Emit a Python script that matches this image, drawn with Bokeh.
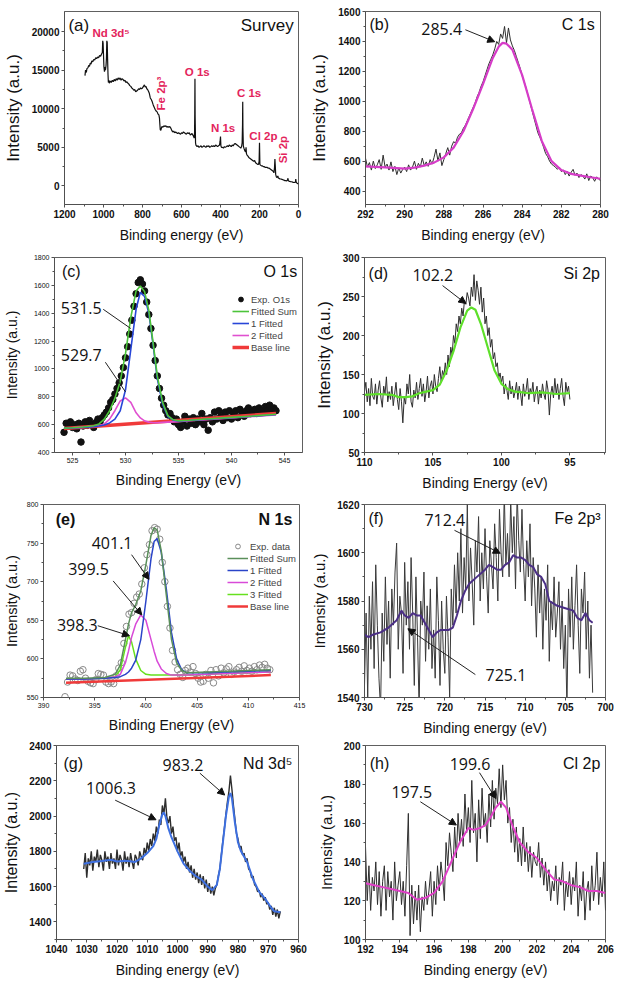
import numpy as np
from bokeh.plotting import figure
from bokeh.models import Range1d, FixedTicker, Label, Arrow, NormalHead, Legend, LegendItem
from bokeh.layouts import column, row
from bokeh.embed import file_html
from bokeh.resources import INLINE

# ---------------- data ----------------
# (a) survey
survey_be = [1095,1092,1088,1085,1080,1076,1072,1068,1064,1060,
             1055,1050,1045,1040,1035,1030,1025,1020,1015,1010,
             1006,1004,1002,1000,998,995,992,990,987,985,
             983,981,979,977,975,972,970,965,960,955,
             950,945,940,935,930,925,920,915,910,905,
             900,895,890,885,880,875,870,865,860,855,
             850,845,840,835,830,825,820,815,810,805,
             800,795,790,786,782,778,774,770,765,760,
             755,750,745,740,735,730,725,720,716,713,
             711,709,706,703,700,695,690,685,680,675,
             670,665,660,655,650,645,640,635,630,625,
             620,615,610,605,600,595,590,585,580,575,
             570,565,560,555,550,546,542,538,535,533,
             532,531,530,528,526,523,520,515,510,505,
             500,495,490,485,480,475,470,465,460,455,
             450,445,440,435,430,425,420,415,410,405,
             402,400,398,395,390,385,380,375,370,365,
             360,355,350,345,340,335,330,325,320,315,
             310,305,300,296,292,289,287,286,285,283,
             280,277,274,271,269,267,264,260,255,250,
             245,240,235,230,225,220,215,210,205,202,
             200,198,195,190,185,180,175,170,165,160,
             155,150,145,140,135,130,126,123,121,119,
             117,114,110,106,103,100,95,90,85,80,
             75,70,65,60,56,54,52,48,45,40,
             35,30,25,20,16,14,12,9,6,3,0]
survey_counts = [14300,15000,14700,15200,15300,15600,15500,15900,15800,16200,
                 16100,16400,16300,16600,16500,16700,16600,16900,16800,17100,
                 17300,18800,18500,17000,15500,14800,15400,15000,15600,16500,
                 18800,18600,16500,14500,13400,13700,13300,13600,13400,13700,
                 13500,13800,13600,13900,13700,14000,13800,14000,13700,13900,
                 13800,13600,13700,13400,13500,13300,13200,13000,12900,12700,
                 12600,12400,12500,12200,12300,12400,12600,12500,12700,12600,
                 12700,12900,13100,12800,12900,12600,12500,12300,12000,11400,
                 11200,10900,10500,10200,9900,9700,9600,9300,9200,8800,
                 8000,7300,7200,7500,7700,7600,7800,7700,7800,7600,
                 7700,7600,7700,7500,7200,7000,7100,6900,7000,6900,
                 6800,6900,6800,6700,6900,6800,7000,6900,6800,6700,
                 6900,6800,6900,6600,6700,6800,6600,6400,6200,6900,
                 9500,13900,9000,5600,5300,5200,5100,5200,5000,5100,
                 5200,5000,5100,5200,5100,5000,5200,5100,5200,5000,
                 5100,5200,5100,5200,5100,5300,5200,5100,5200,5300,
                 5800,6400,5200,5000,5000,4900,5100,5000,5100,5200,
                 5100,5300,5200,5100,5300,5200,5400,5500,5400,5300,
                 5200,5100,5000,4900,5100,5600,8000,10900,7500,5200,
                 4900,4700,4500,4400,5000,4200,4000,3900,3700,3600,
                 3500,3400,3300,3200,3300,3000,2900,2800,2800,3200,
                 5600,2800,2700,2600,2600,2500,2500,2400,2400,2400,
                 2300,2300,2200,2100,2000,1900,1700,2400,3500,2600,
                 1500,1200,1100,1300,1000,1000,900,900,850,800,
                 750,700,700,650,800,1000,700,600,600,550,
                 550,500,450,450,500,900,500,400,350,300,250]

# (b) C 1s, measured 292 -> 280 eV, 0.1 eV step
c1s_exp = [620,560,590,540,600,550,575,610,545,640,560,
           580,540,595,530,565,510,555,520,545,560,
           530,575,540,560,600,545,585,560,620,570,
           595,565,610,580,625,680,600,655,570,610,
           650,690,640,700,730,720,760,780,790,820,
           840,870,900,930,960,990,1030,1060,1100,1130,
           1170,1210,1250,1280,1310,1350,1400,1380,1450,1420,
           1500,1390,1490,1410,1370,1340,1300,1260,1220,1170,
           1130,1090,1040,990,940,890,840,790,760,730,
           690,650,630,600,580,570,560,545,560,530,
           540,510,530,500,525,545,505,520,490,510,
           500,480,515,470,500,490,465,495,480,470]
c1s_fit_be = [292,291,290,289.5,289,288.5,288,287.5,287,286.5,286,285.5,285.2,285,284.8,284.5,284,283.5,283,282.5,282,281.5,281,280.5,280]
c1s_fit = [565,558,550,556,570,590,625,690,800,950,1115,1290,1365,1390,1385,1345,1175,950,735,600,540,515,503,492,482]

# (c) O 1s, measured 524.2 -> 544.2 eV, 0.2 eV step
o1s_exp = [545,610,590,620,580,600,570,610,475,590,
           620,595,630,600,580,615,640,620,650,670,
           690,720,760,780,820,860,900,950,1010,1080,
           1160,1250,1350,1450,1540,1620,1640,1610,1560,1480,
           1390,1290,1170,1060,950,860,790,740,700,670,
           680,650,620,640,600,580,620,660,590,640,
           610,650,600,640,620,680,600,640,560,650,
           620,690,640,700,660,630,690,650,700,640,
           680,700,650,710,680,660,700,720,680,690,
           710,680,720,700,690,730,700,740,710,720,700]
o1s_fit_be = [524.2,525,526,527,527.5,528,528.5,529,529.5,530,530.5,531,531.4,531.8,532.2,532.6,533,533.5,534,534.5,535,536,538,540,542,544.2]
o1s_sum = [575,578,583,592,605,640,700,790,910,1110,1370,1560,1595,1555,1420,1190,950,760,665,635,628,632,642,652,662,675]
o1s_fit1 = [575,577,580,585,590,598,612,640,700,850,1140,1430,1550,1520,1400,1175,930,745,658,632,626,630,640,650,660,673]
o1s_fit2 = [575,578,582,588,592,605,640,700,770,792,760,685,648,627,618,614,614,616,618,620,622,628,638,648,658,670]
o1s_base_be = [524.2, 544.2]
o1s_base = [572, 680]

# (d) Si 2p, measured 110 -> 95 eV, 0.1 eV step
si2p_exp = [128,140,115,132,110,145,122,118,138,112,
            130,142,120,108,135,125,147,115,128,118,
            135,110,125,140,118,105,132,115,88,120,
            112,138,125,150,115,108,130,120,140,118,
            132,145,122,138,115,128,148,120,135,142,
            125,150,135,128,145,160,140,155,148,165,
            150,175,160,185,175,200,190,215,205,225,
            215,235,225,245,240,255,248,238,262,250,
            278,245,270,258,240,262,230,248,215,225,
            200,210,185,195,170,178,160,165,145,152,
            140,148,125,138,130,118,142,125,135,120,
            128,140,118,135,125,110,138,122,130,145,
            118,132,125,140,115,128,135,112,130,120,
            138,125,118,142,130,98,125,135,120,145,
            125,138,118,132,145,122,110,140,128,135,118]
si2p_fit_be = [110,109,108,107.5,107,106.5,106,105.5,105,104.5,104,103.5,103,102.5,102.2,101.9,101.5,101,100.5,100,99.5,99,98.5,98,97,96,95]
si2p_fit = [124,125,124,121,121,122,126,128,130,137,155,180,210,232,236,233,215,185,155,138,131,128,127,126,127,125,126]

# (e) N 1s, measured 392.1 -> 412.1 eV, 0.25 eV step
n1s_exp = [551,570,579,578,574,572,584,586,575,
           571,569,568,573,581,580,579,570,568,
           570,568,578,588,595,620,642,658,660,
           672,680,684,697,718,735,748,766,770,
           768,755,725,700,668,640,611,596,586,
           580,576,585,588,583,590,581,575,570,
           571,580,575,585,569,586,578,588,582,
           587,590,580,583,586,589,584,591,585,
           588,584,590,586,592,589,593,588,586]
n1s_fit_be = [392.2,394,396,397,397.5,398,398.3,398.6,399,399.5,400,400.5,400.8,401.1,401.5,402,402.5,403,403.5,404,406,408,410,412.2]
n1s_sum = [575,575,576,580,592,625,645,660,670,688,722,760,770,767,740,682,625,595,585,582,583,584,585,586]
n1s_fit1 = [574,574,575,576,577,580,583,588,598,625,675,730,752,756,738,690,634,600,586,582,582,583,584,585]
n1s_fit2 = [574,574,575,577,580,595,610,628,645,657,650,625,610,597,587,581,579,579,579,579,580,581,582,583]
n1s_fit3 = [574,574,575,577,586,615,630,622,600,585,580,579,579,579,579,579,579,579,579,579,580,581,582,583]
n1s_base_be = [392.2, 412.2]
n1s_base = [569, 579]

# (f) Fe 2p3, measured 730 -> 701.6 eV, 0.2 eV step
fe2p_exp = [1545,1575,1540,1582,1560,1588,1552,1595,1570,1548,
            1535,1575,1555,1590,1562,1580,1548,1585,1570,1592,
            1604,1560,1582,1575,1550,1596,1570,1588,1560,1598,
            1575,1545,1590,1565,1535,1580,1570,1592,1555,1578,
            1560,1585,1552,1568,1548,1590,1572,1545,1580,1560,
            1550,1582,1565,1540,1585,1570,1595,1575,1600,1580,
            1610,1575,1598,1585,1620,1580,1602,1588,1570,1605,
            1592,1615,1580,1600,1585,1610,1590,1575,1605,1595,
            1585,1612,1598,1580,1618,1600,1590,1625,1595,1608,
            1590,1622,1600,1615,1585,1625,1605,1592,1618,1595,
            1580,1605,1590,1612,1578,1598,1585,1565,1595,1575,
            1590,1560,1585,1572,1595,1555,1580,1568,1590,1565,
            1575,1588,1560,1580,1552,1570,1535,1585,1565,1590,
            1560,1578,1595,1570,1550,1585,1575,1592,1560,1580,
            1548,1570,1542]
fe2p_smooth_be = [730,729.5,729,728,727,726,725.4,725,724.5,724,
                  723.5,723,722.5,722,721.5,721,720.5,720,719.5,719,
                  718.5,718,717.5,717,716,715,714.5,714,713.5,713,
                  712.5,712,711.5,711,710.5,710,709.5,709,708.5,708,
                  707.5,707,706.5,706,705,704,703.5,703,702.5,702,701.6]
fe2p_smooth = [1566,1565,1566,1567,1569,1572,1576,1574,1573,1575,
               1574,1574,1571,1568,1565,1567,1568,1568,1568,1569,
               1574,1580,1584,1587,1590,1593,1595,1594,1593,1593,
               1595,1596,1599,1598,1598,1597,1595,1594,1591,1590,
               1587,1580,1579,1578,1577,1576,1573,1572,1575,1572,1571]

# (g) Nd 3d5, measured 1031 -> 966 eV, 0.5 eV step
nd3d_exp = [1700,1790,1650,1760,1720,1800,1690,1770,1740,1810,
            1710,1780,1750,1690,1800,1740,1770,1700,1790,1730,
            1760,1700,1810,1720,1780,1750,1690,1800,1730,1770,
            1710,1790,1740,1700,1780,1760,1720,1800,1770,1750,
            1820,1780,1850,1800,1870,1830,1900,1860,1940,1900,
            1980,1950,2060,2010,2100,1990,1960,2000,1900,1940,
            1860,1880,1800,1850,1770,1800,1740,1770,1700,1740,
            1680,1720,1650,1700,1640,1680,1620,1670,1610,1660,
            1590,1640,1570,1620,1560,1600,1550,1590,1610,1660,
            1700,1780,1860,1930,2010,2080,2140,2230,2150,2060,
            1980,1900,1870,1820,1830,1780,1790,1740,1760,1700,
            1690,1650,1660,1610,1600,1570,1580,1540,1560,1520,
            1540,1500,1510,1470,1490,1440,1480,1430,1470,1420,1460]
nd3d_smooth_be = [1031,1028,1025,1022,1020,1017,1014,1012,1010,1008,
                  1007,1006,1005,1004.5,1004,1003,1002,1000,998,996,
                  994,992,990,988.5,987,986,985,984,983,982.5,
                  982,981,980,979,977,975,973,971,969,968,966]
nd3d_smooth = [1730,1740,1745,1752,1742,1747,1740,1760,1790,1830,
               1870,1950,2010,2020,2000,1930,1880,1800,1730,1690,
               1660,1640,1600,1580,1610,1700,1850,2000,2110,2130,
               2100,1960,1850,1800,1740,1640,1570,1530,1480,1460,1455]

# (h) Cl 2p, measured 192 -> 206 eV, 0.1 eV step
cl2p_exp = [148,120,138,115,132,125,140,118,135,112,
            130,138,115,135,122,130,110,140,120,128,
            135,118,130,112,138,165,102,128,108,125,
            110,128,104,122,115,130,118,125,135,112,
            130,118,138,125,140,132,120,150,138,155,
            145,135,158,142,165,150,162,148,175,155,
            168,150,182,155,165,140,172,152,178,158,
            165,150,175,158,182,162,178,170,188,168,
            190,172,182,160,168,150,162,145,158,140,
            152,138,158,140,150,135,148,132,145,140,
            138,150,132,142,128,140,125,136,120,130,
            125,138,118,132,128,140,115,130,122,135,
            118,132,125,140,112,128,120,135,110,125,
            130,115,138,120,128,145,118,132,122,140,115]
cl2p_smooth_be = [192,192.5,193,193.5,194,194.5,195,195.5,196,196.5,
                  197,197.5,198,198.3,198.7,199,199.3,199.6,199.9,200.2,
                  200.6,201,201.5,202,202.5,203,203.5,204,204.5,205,205.5,206]
cl2p_smooth = [129,128,127,126,125,124,120.5,121.5,124,130,
               140,150,157.5,156.5,157.5,159,163,168,171,168,
               158,150,145,142,136,131,130,128,127,125,125,124]

# ---------------- styling helpers ----------------
AX = "Liberation Sans"
ANN = "Open Sans"
RED = "#e3245c"
NOISE = "#2e2e2e"


def panel(w, h, xr, yr, borders, xt, yt, xtitle, ysize, tick_size="10px",
          tick_style="bold", ystandoff=6):
    bl, br, bt, bb = borders
    p = figure(width=w, height=h, x_range=Range1d(*xr), y_range=Range1d(*yr),
               output_backend="svg", toolbar_location=None,
               min_border_left=bl, min_border_right=br,
               min_border_top=bt, min_border_bottom=bb)
    p.xgrid.visible = False
    p.ygrid.visible = False
    p.outline_line_color = "#606060"
    p.outline_line_width = 1
    xmaj, xmin = xt
    ymaj, ymin = yt
    p.xaxis.ticker = FixedTicker(ticks=xmaj, minor_ticks=xmin)
    p.yaxis.ticker = FixedTicker(ticks=ymaj, minor_ticks=ymin)
    for ax in (p.xaxis[0], p.yaxis[0]):
        ax.axis_line_color = "#505050"
        ax.major_tick_line_color = "#505050"
        ax.minor_tick_line_color = "#505050"
        ax.major_tick_out = 3
        ax.major_tick_in = 0
        ax.minor_tick_out = 2
        ax.minor_tick_in = 0
        ax.major_label_text_font = AX
        ax.major_label_text_font_size = tick_size
        ax.major_label_text_font_style = tick_style
        ax.major_label_text_color = "#111111"
        ax.major_label_standoff = 2
        ax.axis_label_text_font = AX
        ax.axis_label_text_font_style = "normal"
        ax.axis_label_text_color = "#111111"
    p.xaxis.axis_label = xtitle
    p.xaxis.axis_label_text_font_size = "14px"
    p.xaxis.axis_label_standoff = 6
    p.yaxis.axis_label = "Intensity (a.u.)"
    p.yaxis.axis_label_text_font_size = ysize
    p.yaxis.axis_label_standoff = ystandoff
    return p


def text(p, x, y, s, size="16px", align="left", color="#111111", font=AX,
         style="normal", angle=0.0):
    p.add_layout(Label(x=x, y=y, text=s, text_font=font, text_font_size=size,
                       text_align=align, text_baseline="middle",
                       text_color=color, text_font_style=style, angle=angle))


def arrow(p, x0, y0, x1, y1, head=True):
    end = NormalHead(size=7, fill_color="#111111", line_color="#111111") if head else None
    p.add_layout(Arrow(end=end, x_start=x0, y_start=y0, x_end=x1, y_end=y1,
                       line_color="#222222", line_width=1))


W = 307

# (a) Survey
pa = panel(W, 245, (1200, 0), (-2400, 22600), (55, 9, 10, 40),
           ([0, 200, 400, 600, 800, 1000, 1200], [100, 300, 500, 700, 900, 1100]),
           ([0, 5000, 10000, 15000, 20000], [-2500, 2500, 7500, 12500, 17500]),
           "Binding energy (eV)", "17px")
pa.line(survey_be, survey_counts, line_color="#111111", line_width=1.2)
text(pa, 1180, 20760, "(a)", "17px")
text(pa, 25, 20760, "Survey", "17px", align="right")
text(pa, 1057, 19870, "Nd 3d⁵", "11.5px", color=RED, style="bold")
text(pa, 706, 11980, "Fe 2p³", "11.5px", align="center", color=RED, style="bold", angle=np.pi / 2)
text(pa, 583, 14780, "O 1s", "11.5px", color=RED, style="bold")
text(pa, 316, 12100, "C 1s", "11.5px", color=RED, style="bold")
text(pa, 449, 7520, "N 1s", "11.5px", color=RED, style="bold")
text(pa, 252, 6500, "Cl 2p", "11.5px", color=RED, style="bold")
text(pa, 79, 4710, "Si 2p", "11.5px", align="center", color=RED, style="bold", angle=np.pi / 2)

# (b) C 1s
pb = panel(W, 245, (292, 280), (310, 1600), (53, 14, 11, 41),
           ([280, 282, 284, 286, 288, 290, 292], [281, 283, 285, 287, 289, 291]),
           ([400, 600, 800, 1000, 1200, 1400, 1600], [500, 700, 900, 1100, 1300, 1500]),
           "Binding energy (eV)", "17px")
pb.line(np.linspace(292, 280, len(c1s_exp)), c1s_exp, line_color=NOISE, line_width=1)
pb.line(c1s_fit_be, c1s_fit, line_color="#d63cc8", line_width=2.2)
text(pb, 291.8, 1513, "(b)", "16px")
text(pb, 280.3, 1513, "C 1s", "16px", align="right")
text(pb, 289.15, 1480, "285.4", "16px", font=ANN)
arrow(pb, 286.9, 1478, 285.4, 1398)

# (c) O 1s
pc = panel(W, 248, (523.3, 546.7), (400, 1800), (54, 5, 8, 37),
           ([525, 530, 535, 540, 545], [527.5, 532.5, 537.5, 542.5]),
           ([400, 600, 800, 1000, 1200, 1400, 1600, 1800], [500, 700, 900, 1100, 1300, 1500, 1700]),
           "Binding Energy (eV)", "14px", tick_size="7px", tick_style="normal", ystandoff=11)
r_exp = pc.scatter(np.linspace(524.2, 544.2, len(o1s_exp)), o1s_exp, size=6.5,
                   fill_color="#111111", line_color="#111111")
r_base = pc.line(o1s_base_be, o1s_base, line_color="#f03a3a", line_width=3.5)
r_f2 = pc.line(o1s_fit_be, o1s_fit2, line_color="#e050d0", line_width=1.6)
r_f1 = pc.line(o1s_fit_be, o1s_fit1, line_color="#2846d8", line_width=1.6)
r_sum = pc.line(o1s_fit_be, o1s_sum, line_color="#4cc43a", line_width=1.6)
text(pc, 524.0, 1703, "(c)", "16px")
text(pc, 546.2, 1703, "O 1s", "16px", align="right")
text(pc, 523.9, 1435, "531.5", "16px", font=ANN)
arrow(pc, 527.9, 1428, 530.5, 1290, head=False)
text(pc, 523.9, 1097, "529.7", "16px", font=ANN)
arrow(pc, 528.1, 1048, 530.0, 835, head=False)
leg_c = Legend(items=[LegendItem(label="Exp. O1s", renderers=[r_exp]),
                      LegendItem(label="Fitted Sum", renderers=[r_sum]),
                      LegendItem(label="1 Fitted", renderers=[r_f1]),
                      LegendItem(label="2 Fitted", renderers=[r_f2]),
                      LegendItem(label="Base line", renderers=[r_base])],
               location=(178, 99), padding=0, margin=0, spacing=0,
               glyph_width=17, glyph_height=12, label_height=12,
               label_standoff=2, label_text_font=AX, label_text_font_size="9.5px",
               border_line_color=None, background_fill_alpha=0)
pc.add_layout(leg_c)

# (d) Si 2p
pd_ = panel(W, 248, (110, 92.4), (50, 300), (57, 9, 12, 41),
            ([95, 100, 105, 110], [92.5, 97.5, 102.5, 107.5]),
            ([50, 100, 150, 200, 250, 300], [75, 125, 175, 225, 275]),
            "Binding Energy (eV)", "17px")
pd_.line(np.linspace(110, 95, len(si2p_exp)), si2p_exp, line_color=NOISE, line_width=1)
pd_.line(si2p_fit_be, si2p_fit, line_color="#5ee02a", line_width=2.2)
text(pd_, 109.7, 279.5, "(d)", "16px")
text(pd_, 92.8, 279.5, "Si 2p", "16px", align="right")
text(pd_, 106.5, 277, "102.2", "16px", font=ANN)
arrow(pd_, 104.3, 264, 102.6, 241)

# (e) N 1s
pe = panel(W, 245, (390, 415), (550, 800), (40, 8, 10, 36),
           ([390, 395, 400, 405, 410, 415], [392.5, 397.5, 402.5, 407.5, 412.5]),
           ([550, 600, 650, 700, 750, 800], [575, 625, 675, 725, 775]),
           "Binding Energy (eV)", "14.5px", tick_size="7px", tick_style="normal", ystandoff=4)
r_nexp = pe.scatter(np.linspace(392.1, 412.1, len(n1s_exp)), n1s_exp, size=6.5,
                    fill_color=None, line_color="#8a8a8a", line_width=1)
r_nbase = pe.line(n1s_base_be, n1s_base, line_color="#f03a3a", line_width=2.5)
r_n3 = pe.line(n1s_fit_be, n1s_fit3, line_color="#66e01e", line_width=1.5)
r_n2 = pe.line(n1s_fit_be, n1s_fit2, line_color="#d84ad8", line_width=1.5)
r_n1 = pe.line(n1s_fit_be, n1s_fit1, line_color="#2a44c8", line_width=1.5)
r_nsum = pe.line(n1s_fit_be, n1s_sum, line_color="#5a8f5a", line_width=1.5)
text(pe, 391.2, 780, "(e)", "16px", style="bold")
text(pe, 414.3, 780, "N 1s", "16px", align="right", style="bold")
text(pe, 396.7, 750, "401.1", "16px", align="center", font=ANN)
arrow(pe, 398.6, 735, 400.3, 703)
text(pe, 394.4, 716, "399.5", "16px", align="center", font=ANN)
arrow(pe, 396.8, 701, 399.6, 657)
text(pe, 393.3, 644, "398.3", "16px", align="center", font=ANN)
arrow(pe, 395.3, 643, 398.4, 630)
leg_e = Legend(items=[LegendItem(label="Exp. data", renderers=[r_nexp]),
                      LegendItem(label="Fitted Sum", renderers=[r_nsum]),
                      LegendItem(label="1 Fitted", renderers=[r_n1]),
                      LegendItem(label="2 Fitted", renderers=[r_n2]),
                      LegendItem(label="3 Fitted", renderers=[r_n3]),
                      LegendItem(label="Base line", renderers=[r_nbase])],
               location=(184, 85), padding=0, margin=0, spacing=0,
               glyph_width=21, glyph_height=12, label_height=12,
               label_standoff=2, label_text_font=AX, label_text_font_size="9.5px",
               border_line_color=None, background_fill_alpha=0)
pe.add_layout(leg_e)

# (f) Fe 2p3
pf = panel(W, 245, (730, 700), (1540, 1620), (57, 9, 11, 40),
           ([700, 705, 710, 715, 720, 725, 730], [702.5, 707.5, 712.5, 717.5, 722.5, 727.5]),
           ([1540, 1560, 1580, 1600, 1620], [1550, 1570, 1590, 1610]),
           "Binding energy (eV)", "15px")
pf.line(np.linspace(730, 701.6, len(fe2p_exp)), fe2p_exp, line_color="#3a3a3a", line_width=1)
pf.line(fe2p_smooth_be, fe2p_smooth, line_color="#4b2f86", line_width=2)
text(pf, 729.5, 1614.2, "(f)", "16px")
text(pf, 700.6, 1614.2, "Fe 2p³", "16px", align="right")
text(pf, 720.0, 1613.4, "712.4", "16px", align="center", font=ANN)
arrow(pf, 718.8, 1609.3, 713.1, 1599.8)
text(pf, 712.4, 1549.5, "725.1", "16px", align="center", font=ANN)
arrow(pf, 716.2, 1549.5, 724.6, 1568.5)

# (g) Nd 3d5
pg = panel(W, 244, (1040, 960), (1300, 2400), (55, 9, 7, 42),
           ([960, 970, 980, 990, 1000, 1010, 1020, 1030, 1040],
            [965, 975, 985, 995, 1005, 1015, 1025, 1035]),
           ([1400, 1600, 1800, 2000, 2200, 2400], [1300, 1500, 1700, 1900, 2100, 2300]),
           "Binding energy (eV)", "16px")
pg.line(np.linspace(1031, 966, len(nd3d_exp)), nd3d_exp, line_color=NOISE, line_width=1.4)
pg.line(nd3d_smooth_be, nd3d_smooth, line_color="#3d6fe0", line_width=2)
text(pg, 1037.7, 2299, "(g)", "16px")
text(pg, 962, 2299, "Nd 3d⁵", "16px", align="right")
text(pg, 1022, 2158, "1006.3", "16px", align="center", font=ANN)
arrow(pg, 1020.6, 2090, 1007.1, 1979)
text(pg, 998.2, 2288, "983.2", "16px", align="center", font=ANN)
arrow(pg, 992.6, 2243, 984.4, 2119)

# (h) Cl 2p
ph = panel(W, 244, (192, 206), (100, 200), (58, 9, 7, 43),
           ([192, 194, 196, 198, 200, 202, 204, 206], [193, 195, 197, 199, 201, 203, 205]),
           ([100, 120, 140, 160, 180, 200], [110, 130, 150, 170, 190]),
           "Binding energy (eV)", "15px")
ph.line(np.linspace(192, 206, len(cl2p_exp)), cl2p_exp, line_color=NOISE, line_width=1)
ph.line(cl2p_smooth_be, cl2p_smooth, line_color="#e040c8", line_width=2)
text(ph, 192.25, 190.7, "(h)", "16px")
text(ph, 205.7, 190.7, "Cl 2p", "16px", align="right")
text(ph, 194.7, 175.8, "197.5", "16px", align="center", font=ANN)
arrow(ph, 195.2, 171, 197.3, 159)
text(ph, 198.1, 190.7, "199.6", "16px", align="center", font=ANN)
arrow(ph, 198.65, 186, 199.6, 172.7)

layout = column(row(pa, pb), row(pc, pd_), row(pe, pf), row(pg, ph))

open("out.html", "w").write(file_html(layout, INLINE))
